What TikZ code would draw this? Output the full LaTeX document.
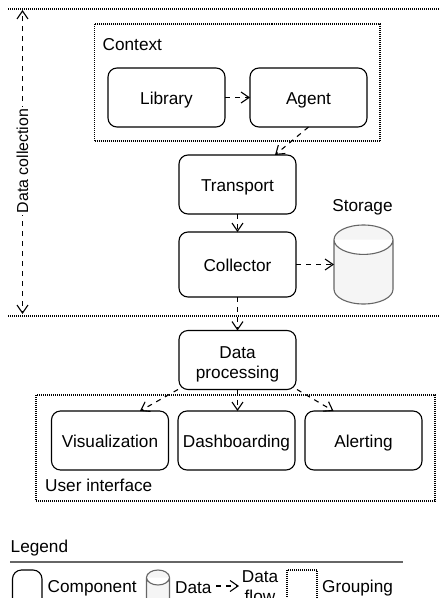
\documentclass[tikz,border=0pt]{standalone}
\usepackage{fontspec}
\setmainfont{Liberation Sans}
\usetikzlibrary{arrows.meta,calc}
\definecolor{cylfill}{HTML}{F5F5F5}
\definecolor{cylline}{HTML}{666666}
\newcommand{\cs}{\rule[-6pt]{0pt}{26pt}}
\newcommand{\cylbody}[2]{%
  \draw[cyl] let \p1=(#1.north west),\p2=(#1.south east) in
    (\x1,\y1-#2) arc[start angle=180,end angle=0,x radius={(\x2-\x1)/2},y radius=#2]
    -- (\x2,\y2+#2) arc[start angle=0,end angle=-180,x radius={(\x2-\x1)/2},y radius=#2]
    -- cycle
    (\x1,\y1-#2) arc[start angle=180,end angle=360,x radius={(\x2-\x1)/2},y radius=#2];
}
\tikzset{
  comp/.style={draw=black,line width=1.1pt,rounded corners=9pt,minimum width=#1,minimum height=59pt,inner sep=0pt,outer sep=0pt,align=center,font=\fontsize{17.2}{20}\selectfont},
  comp/.default=117pt,
  grp/.style={draw=black,line width=1.1pt,dash pattern=on 1pt off 1pt},
  sepline/.style={draw=black,line width=1.1pt,dash pattern=on 1pt off 1pt},
  flow/.style={draw=black,line width=1.1pt,dash pattern=on 5pt off 5pt,-{Straight Barb[length=8pt,width=11pt,line width=1.1pt]}},
  lbl/.style={inner sep=0pt,font=\fontsize{17.2}{20}\selectfont},
  cyl/.style={draw=cylline,fill=cylfill,line width=1.1pt},
  store/.style={inner sep=0pt,outer sep=0pt}
}
\begin{document}
\begin{tikzpicture}[x=1pt,y=-1pt]
\useasboundingbox (0,0) rectangle (439,598);
\clip (0,0) rectangle (439,598);
% groups
\node[grp,minimum width=285.5pt,minimum height=117pt,inner sep=0pt,outer sep=0pt] (ctx) at (237.25,82.5) {};
\node[grp,minimum width=399pt,minimum height=106pt,inner sep=0pt,outer sep=0pt] (ui) at (235.5,448) {};
% separators
\coordinate (s1a) at (8,9); \coordinate (s1b) at (439,9);
\coordinate (s2a) at (8,316); \coordinate (s2b) at (439,316);
\draw[sepline] (s1a) -- (s1b);
\draw[sepline] (s2a) -- (s2b);
% labels
\node[lbl,anchor=west] (ctxl) at (102.5,45) {Context};
\node[lbl,anchor=west] (uil) at (45,485.5) {User interface};
\node[lbl] (storl) at (362.5,207) {Storage};
% components
\node[comp=117pt] (lib) at (166.5,97.5) {\cs Library};
\node[comp=117pt] (agent) at (308.5,97.5) {\cs Agent};
\node[comp=117pt] (trans) at (237.5,184.5) {\cs Transport};
\node[comp=117pt,minimum height=65pt] (coll) at (237.5,264.5) {\cs Collector};
\node[comp=117pt] (proc) at (237.5,360) {\rule{0pt}{19.6pt}Data\\processing};
\node[comp=117pt] (viz) at (110,440.5) {\cs Visualization};
\node[comp=117pt] (dash) at (236.5,440.5) {\cs Dashboarding};
\node[comp=117pt] (alert) at (363.5,440.5) {\cs Alerting};
\node[store,minimum width=59pt,minimum height=79pt] (stor) at (363.5,264.5) {};
\cylbody{stor}{14.7pt}
% connectors
\draw[flow] (lib.east) -- (agent.west);
\draw[flow] (agent.south) -- ([xshift=-21pt]trans.north east);
\draw[flow] (trans.south) -- (coll.north);
\draw[flow] (coll.east) -- (stor.west);
\draw[flow] (coll.south) -- (proc.north);
\draw[flow] (proc.south) -- ([xshift=1pt]dash.north);
\draw[flow] ([xshift=-1pt]proc.south west) -- ([xshift=30pt]viz.north);
\draw[flow] ([xshift=1pt]proc.south east) -- ([xshift=-30pt]alert.north);
% data collection
\coordinate (dca) at (22.5,161);
\coordinate (dct) at (22.5,10);
\coordinate (dcb) at (22.5,314);
\draw[flow] (dca) -- (dct);
\draw[flow] (dca) -- (dcb);
\node[lbl,fill=white,rotate=90,inner sep=2pt,font=\fontsize{15.9}{18}\selectfont] (dcl) at (dca) {Data collection};
% legend
\node[lbl,anchor=west] (legl) at (10.5,548) {Legend};
\coordinate (la) at (10,562); \coordinate (lb) at (403,562);
\draw[draw=cylline,line width=1.1pt] (la) -- (lb);
\node[comp=29.5pt,minimum height=40pt] (lc) at (27.25,590) {};
\node[lbl,anchor=west] (lct) at (47.5,588) {Component};
\node[store,minimum width=23pt,minimum height=40pt] (ld) at (158,590) {};
\cylbody{ld}{7.5pt}
\node[lbl,anchor=west] (ldt) at (175,587.5) {Data};
\coordinate (lfa) at (216,586); \coordinate (lfb) at (239,586);
\draw[flow] (lfa) -- (lfb);
\node[lbl,align=center,font=\fontsize{17.2}{20}\selectfont] (lft) at (260,587) {Data\\flow};
\node[grp,minimum width=30pt,minimum height=40pt,inner sep=0pt,outer sep=0pt] (lg) at (302,590) {};
\node[lbl,anchor=west] (lgt) at (322,588) {Grouping};
\end{tikzpicture}
\end{document}
